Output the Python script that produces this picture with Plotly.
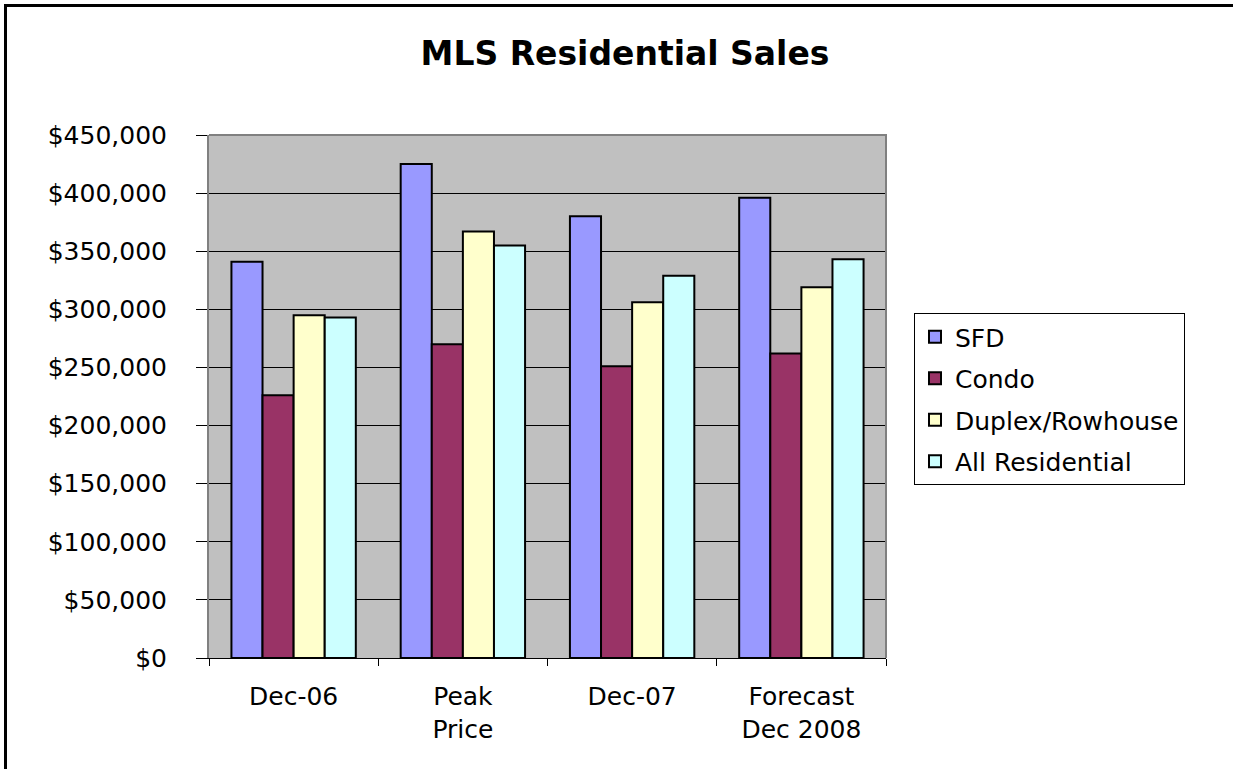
import plotly.graph_objects as go

categories = ["Dec-06", "Peak<br>Price", "Dec-07", "Forecast<br>Dec 2008"]
sfd = [341000, 425000, 380000, 396000]
condo = [226000, 270000, 251000, 262000]
duplex = [295000, 367000, 306000, 319000]
all_res = [293000, 355000, 329000, 343000]

series = [
    ("SFD", sfd, "#9999FF"),
    ("Condo", condo, "#993366"),
    ("Duplex/Rowhouse", duplex, "#FFFFCC"),
    ("All Residential", all_res, "#CCFFFF"),
]

FONT = "DejaVu Sans"

fig = go.Figure()
for name, vals, color in series:
    fig.add_trace(go.Bar(
        name=name, x=categories, y=vals, legendgroup=name,
        marker=dict(color=color, line=dict(color="black", width=2)),
    ))

W, H = 1233, 769
L, R, T, B = 209, 886, 135, 658
pw, ph = R - L, B - T

def px_x(p):
    return (p - L) / pw

def px_y(p):
    return (B - p) / ph

fig.update_layout(
    width=W, height=H,
    margin=dict(l=L, r=W - R, t=T, b=H - B),
    paper_bgcolor="white",
    plot_bgcolor="#C0C0C0",
    barmode="group",
    bargap=0.265,
    bargroupgap=0,
    font=dict(family=FONT, color="black", size=24),
    title=dict(
        text="<b>MLS Residential Sales</b>",
        x=625 / W, xanchor="center", xref="container",
        y=1 - 53 / H, yanchor="middle", yref="container",
        font=dict(family=FONT, size=33, color="black"),
    ),
    legend=dict(
        x=px_x(914), xanchor="left", y=px_y(313), yanchor="top",
        bordercolor="black", borderwidth=1, bgcolor="white",
        font=dict(family=FONT, size=25, color="black"),
        tracegroupgap=6, traceorder="grouped",
    ),
    showlegend=True,
)

fig.update_yaxes(
    range=[0, 450000], dtick=50000, tick0=0,
    tickprefix="$", tickformat=",d",
    showgrid=True, gridcolor="black", gridwidth=1,
    ticks="outside", ticklen=11, tickcolor="black", tickwidth=1,
    ticklabelstandoff=24,
    showline=True, linecolor="#808080", linewidth=2,
    zeroline=False,
    tickfont=dict(family=FONT, size=25, color="black"),
)
fig.update_xaxes(
    showline=True, linecolor="black", linewidth=1,
    ticks="outside", tickson="boundaries", ticklen=7, tickcolor="black",
    ticklabelstandoff=16,
    tickfont=dict(family=FONT, size=25, color="black"),
)

# gray frame of plot area (top and right)
fig.add_shape(type="path", xref="paper", yref="paper",
              path="M 0,1 L 1,1 L 1,0",
              line=dict(color="#808080", width=2))
# outer chart border (left and top visible)
fig.add_shape(type="rect", xref="paper", yref="paper",
              x0=px_x(5.5), x1=px_x(1260), y0=px_y(800), y1=px_y(5.5),
              line=dict(color="black", width=3))

fig.write_html(
    "out.html",
    config={"displayModeBar": False},
    post_script="document.body.style.margin='0';document.body.style.overflow='hidden';",
)
